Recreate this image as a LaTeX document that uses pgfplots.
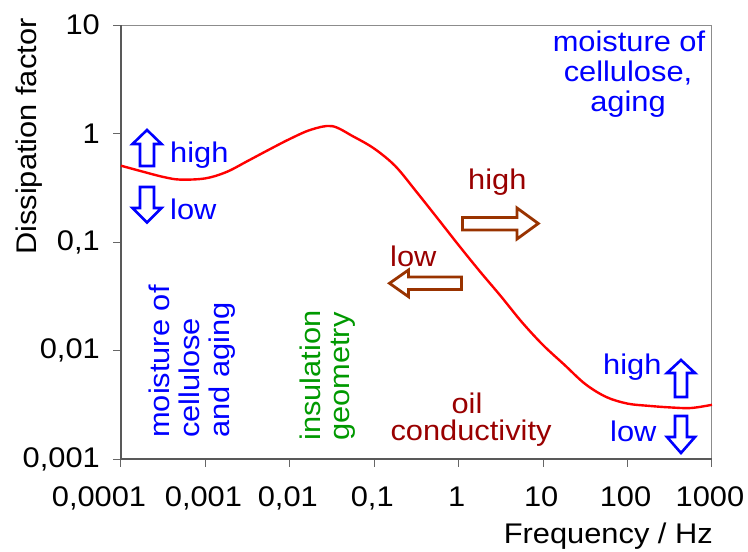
\documentclass[border=0pt]{standalone}
\usepackage{pgfplots}
\pgfplotsset{compat=1.18}
\usepackage{fontspec}
\setmainfont[FakeStretch=1.085]{Liberation Sans}
\definecolor{cblue}{RGB}{0,0,255}
\definecolor{cdred}{RGB}{153,0,0}
\definecolor{cbrown}{RGB}{153,51,0}
\definecolor{cgreen}{RGB}{0,153,0}
\definecolor{cred}{RGB}{255,0,0}
\newcommand\f{\fontsize{28.4}{30}\selectfont}
\begin{document}
\begin{tikzpicture}
\begin{scope}[shift={(-121pt,459pt)},x=1pt,y=-1pt]
\path[use as bounding box] (0,0) rectangle (748,552);
\end{scope}
\begin{axis}[
  at={(0,0)}, anchor=south west,
  width=591pt, height=434pt, scale only axis,
  xmode=log, ymode=log,
  xmin=1e-4, xmax=1e3, ymin=1e-3, ymax=10,
  xtick={1e-4,1e-3,1e-2,1e-1,1,10,100,1000},
  xticklabels={{0,0001\hspace*{40pt}},{0,001},{0,01},{0,1},1,10,100,1000},
  ytick={1e-3,1e-2,1e-1,1,10},
  yticklabels={{0,001},{0,01},{0,1},1,10},
  minor tick style={draw=none},
  xtick pos=bottom, ytick pos=left,
  tick align=outside, major tick length=8pt,
  tick style={black!60, line width=1pt},
  axis line style={draw=none},
  ticklabel style={font=\f, inner sep=0pt},
  yticklabel style={anchor=east, xshift=-13pt},
  xticklabel style={anchor=north, yshift=-19.5pt, xshift=-2pt},
  clip=false,
]
\draw[black!45, line width=1pt] (rel axis cs:0,1) -- (rel axis cs:1,1) -- (rel axis cs:1,0);
\draw[black!65, line width=1.2pt] (rel axis cs:0,1) -- (rel axis cs:0,0) -- (rel axis cs:1,0);
\addplot[cred, line width=2.4pt, smooth, tension=0.55] coordinates {
(1e-4,0.505) (1.778e-4,0.447) (3.162e-4,0.398) (5.012e-4,0.376)
(1e-3,0.386) (1.778e-3,0.442) (3.162e-3,0.558) (5.623e-3,0.708)
(1e-2,0.891) (1.778e-2,1.084) (3.162e-2,1.170) (5.623e-2,0.940)
(0.1,0.725) (0.1778,0.500) (0.3162,0.290) (0.5623,0.165)
(1,0.0933) (1.778,0.0537) (3.162,0.0316) (5.623,0.0182)
(10,0.0112) (17.78,0.00741) (31.62,0.00490) (56.23,0.00372)
(100,0.00324) (177.8,0.00309) (316.2,0.00299) (562.3,0.00295)
(1000,0.00316)
};
\end{axis}
\begin{scope}[shift={(-121pt,459pt)},x=1pt,y=-1pt]
% axis titles
\node[font=\f, rotate=90, anchor=base east, inner sep=0pt] at (37,18.3) {Dissipation factor};
\node[font=\f, anchor=base east, inner sep=0pt] at (713,543.3) {Frequency / Hz};
% top-right
\node[font=\f, text=cblue, anchor=base, inner sep=0pt] at (629,51.7) {moisture of};
\node[font=\f, text=cblue, anchor=base, inner sep=0pt] at (628,81.7) {cellulose,};
\node[font=\f, text=cblue, anchor=base, inner sep=0pt] at (628,111.7) {aging};
% left blue
\node[font=\f, text=cblue, anchor=base west, inner sep=0pt] at (170,163) {high};
\node[font=\f, text=cblue, anchor=base west, inner sep=0pt] at (170,220) {low};
\draw[cblue, line width=2.6pt, fill=white, line join=miter] (147,130) -- (161.5,144) -- (154,144) -- (154,166) -- (140,166) -- (140,144) -- (132.5,144) -- cycle;
\draw[cblue, line width=2.6pt, fill=white, line join=miter] (147,222.5) -- (161.5,208) -- (154,208) -- (154,187) -- (140,187) -- (140,208) -- (132.5,208) -- cycle;
% right blue
\node[font=\f, text=cblue, anchor=base west, inner sep=0pt] at (603,375) {high};
\node[font=\f, text=cblue, anchor=base west, inner sep=0pt] at (610,441.7) {low};
\draw[cblue, line width=2.6pt, fill=white, line join=miter] (681,360) -- (695,373) -- (687,373) -- (687,397) -- (675,397) -- (675,373) -- (667,373) -- cycle;
\draw[cblue, line width=2.6pt, fill=white, line join=miter] (681,453) -- (695,437) -- (687,437) -- (687,416) -- (675,416) -- (675,437) -- (667,437) -- cycle;
% brown arrows
\node[font=\f, text=cdred, anchor=base west, inner sep=0pt] at (468,190) {high};
\node[font=\f, text=cdred, anchor=base west, inner sep=0pt] at (390,266.7) {low};
\draw[cbrown, line width=2.8pt, fill=white, line join=miter] (538.3,223.5) -- (517,208) -- (517,217.5) -- (462.5,217.5) -- (462.5,230) -- (517,230) -- (517,239) -- cycle;
\draw[cbrown, line width=2.8pt, fill=white, line join=miter] (389.5,283.3) -- (408.5,270) -- (408.5,277) -- (461.5,277) -- (461.5,289.5) -- (408.5,289.5) -- (408.5,296.7) -- cycle;
% oil conductivity
\node[font=\f, text=cdred, anchor=base, inner sep=0pt] at (467,414) {oil};
\node[font=\f, text=cdred, anchor=base, inner sep=0pt] at (471,440.5) {conductivity};
% rotated blue
\node[font=\f, text=cblue, rotate=90, anchor=base west, inner sep=0pt] at (170,438) {moisture of};
\node[font=\f, text=cblue, rotate=90, anchor=base west, inner sep=0pt] at (200,438) {cellulose};
\node[font=\f, text=cblue, rotate=90, anchor=base west, inner sep=0pt] at (230,438) {and aging};
% rotated green
\node[font=\f, text=cgreen, rotate=90, anchor=base west, inner sep=0pt] at (320,441) {insulation};
\node[font=\f, text=cgreen, rotate=90, anchor=base west, inner sep=0pt] at (349,441) {geometry};
\end{scope}
\end{tikzpicture}
\end{document}
